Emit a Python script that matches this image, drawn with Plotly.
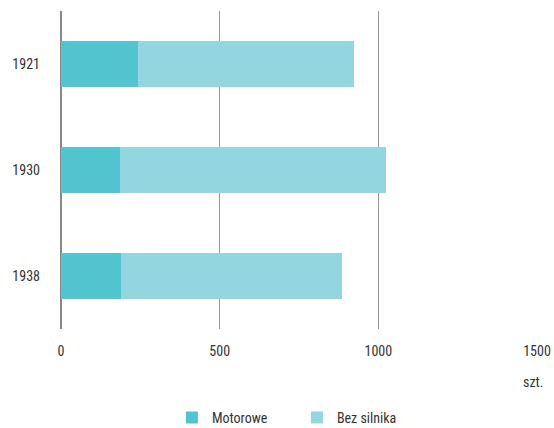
import plotly.graph_objects as go

years = ["1921", "1930", "1938"]
motorowe = [243, 187, 190]
bez_silnika = [681, 836, 694]
x_ticks = [0, 500, 1000, 1500]

FONT = "Liberation Sans Narrow, Roboto Condensed, Arial Narrow, sans-serif"

fig = go.Figure()
fig.add_trace(go.Bar(y=years, x=motorowe, name="Motorowe", orientation="h",
                     marker=dict(color="#52C4D0", line=dict(width=0)), width=0.44))
fig.add_trace(go.Bar(y=years, x=bez_silnika, name="Bez silnika", orientation="h",
                     marker=dict(color="#93D6E0", line=dict(width=0)), width=0.44))

fig.update_layout(
    barmode="stack",
    width=554, height=428,
    margin=dict(l=61, r=17, t=11, b=99, autoexpand=False),
    paper_bgcolor="white", plot_bgcolor="white",
    font=dict(family=FONT, size=14, color="#333333"),
    xaxis=dict(range=[0, 1500], tickvals=x_ticks, ticktext=[str(v) for v in x_ticks],
               showgrid=True, gridcolor="#999999", gridwidth=1,
               zeroline=True, zerolinecolor="#888888", zerolinewidth=2,
               showline=False, ticks="", ticklabelstandoff=12, automargin=False),
    yaxis=dict(autorange="reversed", showgrid=False, zeroline=False, showline=False,
               ticks="", ticklabelstandoff=20, automargin=False),
    legend=dict(orientation="h", x=0.233, xanchor="left", yref="container",
                y=0.061, yanchor="top", font=dict(size=14),
                traceorder="normal", itemwidth=30,
                entrywidth=80, entrywidthmode="pixels"),
    annotations=[dict(text="szt.", xref="paper", yref="paper", x=1.017, y=-0.167,
                      xanchor="right", yanchor="middle", showarrow=False,
                      font=dict(size=14, color="#333333"))],
)

fig.write_html("out.html", config={"displayModeBar": False},
               post_script="document.body.style.margin='0';document.body.style.padding='0';")
